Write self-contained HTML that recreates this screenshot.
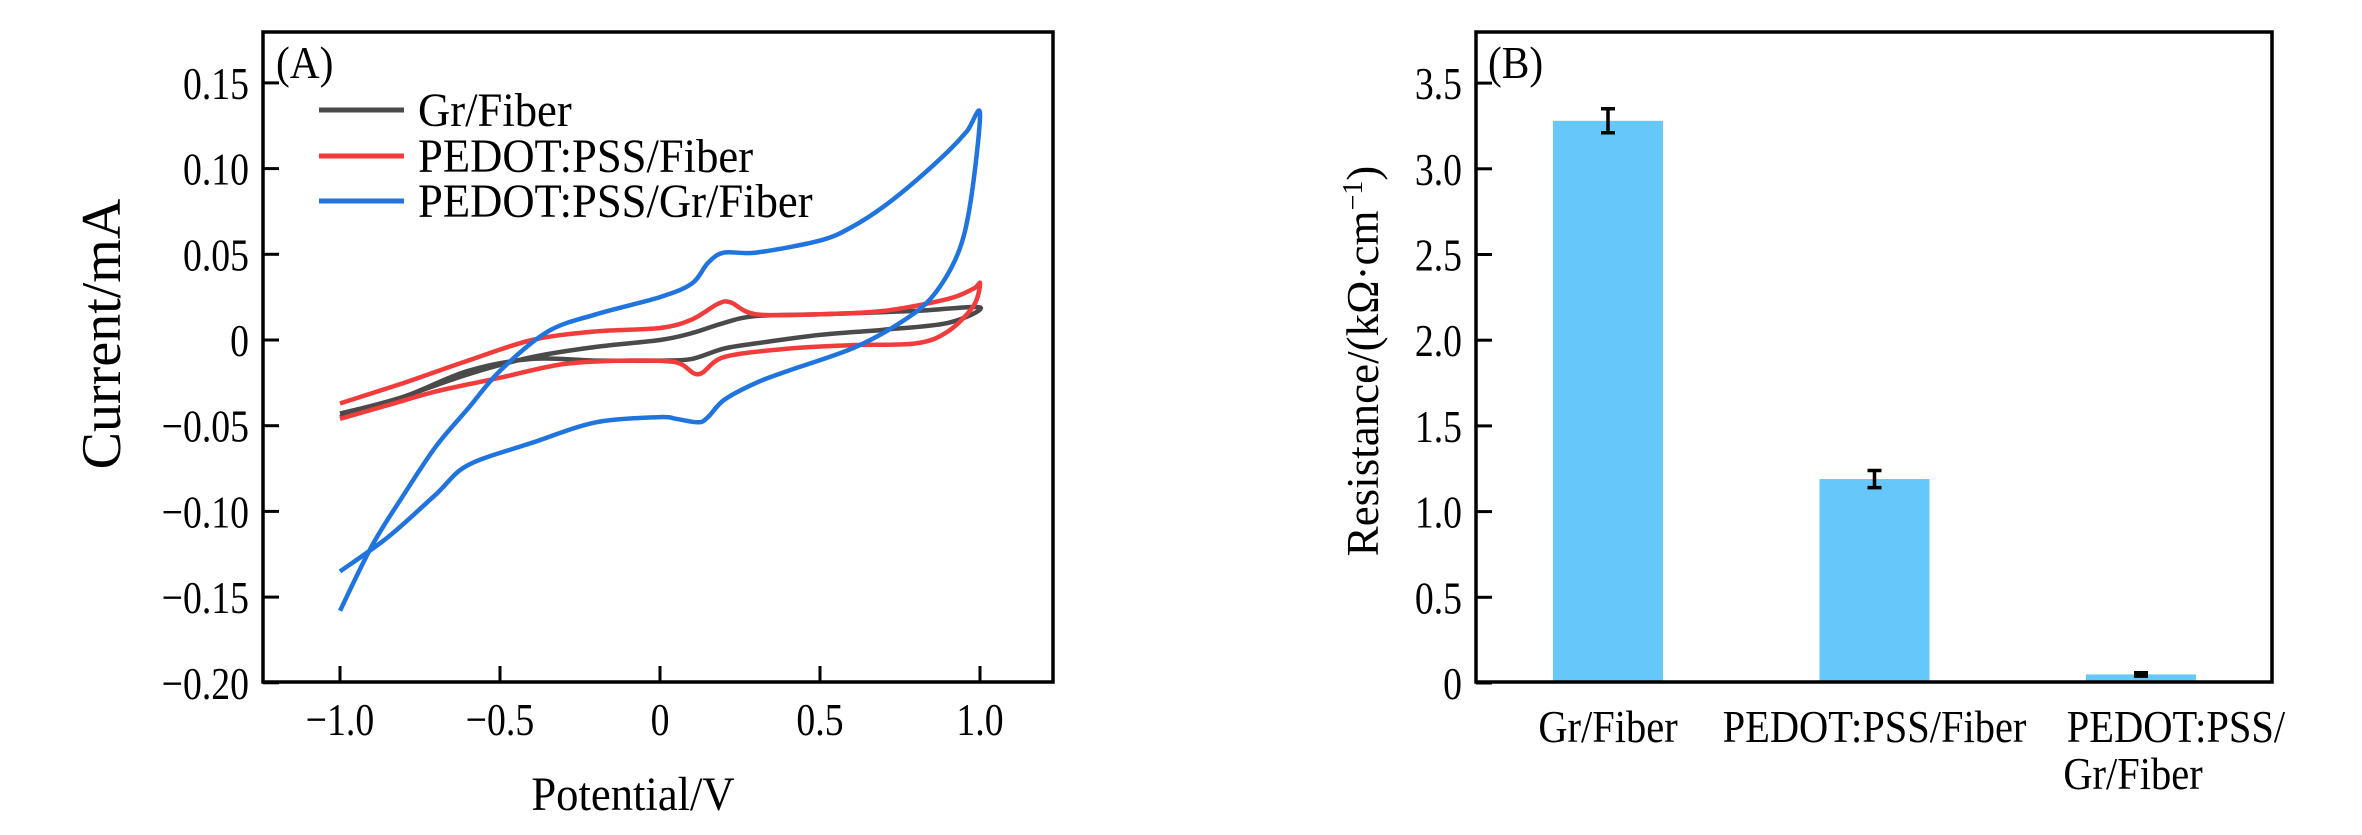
<!DOCTYPE html>
<html><head><meta charset="utf-8"><style>
html,body{margin:0;padding:0;background:#fff}
svg{display:block}
text{font-family:"Liberation Serif",serif;fill:#000}
</style></head><body>
<svg id="fig" width="2362" height="835" viewBox="0 0 2362 835" xmlns="http://www.w3.org/2000/svg">
<g id="cv"></g>
<g id="bar"></g>
</svg>
<script>
// ---- CV chart data ----
const grV=[-1,-0.8,-0.6,-0.4,-0.2,0,0.1,0.2,0.3,0.5,0.8,1.0,0.9,0.7,0.5,0.3,0.2,0.1,0,-0.2,-0.4,-0.6,-0.8,-1];
const grI=[-0.045,-0.033,-0.02,-0.01,-0.004,0.0,0.004,0.01,0.014,0.015,0.017,0.019,0.01,0.006,0.003,-0.002,-0.005,-0.011,-0.012,-0.012,-0.011,-0.018,-0.033,-0.043];
const pedV=[-1,-0.8,-0.6,-0.4,-0.2,0,0.1,0.18,0.22,0.3,0.5,0.7,0.9,0.98,1.0,0.98,0.9,0.8,0.6,0.4,0.2,0.12,0.05,-0.1,-0.3,-0.5,-0.7,-0.85,-1];
const pedI=[-0.037,-0.025,-0.012,0.0,0.005,0.007,0.012,0.021,0.022,0.015,0.015,0.017,0.024,0.03,0.033,0.02,0.005,-0.002,-0.003,-0.005,-0.01,-0.02,-0.013,-0.012,-0.014,-0.022,-0.03,-0.038,-0.046];
const bothV=[-1,-0.9,-0.8,-0.7,-0.6,-0.5,-0.35,-0.2,0,0.1,0.15,0.2,0.3,0.5,0.6,0.7,0.8,0.9,0.96,1.0,0.97,0.93,0.85,0.75,0.6,0.4,0.3,0.2,0.15,0.12,0.05,0,-0.2,-0.4,-0.6,-0.7,-0.85,-1.0];
const bothI=[-0.158,-0.12,-0.09,-0.062,-0.04,-0.018,0.005,0.015,0.025,0.033,0.045,0.051,0.051,0.058,0.066,0.078,0.093,0.11,0.122,0.132,0.08,0.05,0.025,0.01,-0.005,-0.018,-0.025,-0.035,-0.045,-0.048,-0.046,-0.045,-0.048,-0.06,-0.073,-0.09,-0.115,-0.135];
const cvXTicks=[-1.0,-0.5,0,0.5,1.0];
const cvXLabels=["\u22121.0","\u22120.5","0","0.5","1.0"];
const cvYTicks=[0.15,0.10,0.05,0,-0.05,-0.10,-0.15,-0.20];
const cvYLabels=["0.15","0.10","0.05","0","\u22120.05","\u22120.10","\u22120.15","\u22120.20"];
// ---- Bar chart data ----
const barCats=["Gr/Fiber","PEDOT:PSS/Fiber","PEDOT:PSS/Gr/Fiber"];
const barVals=[3.28,1.19,0.05];
const barErr=[0.07,0.05,0.01];
const barYTicks=[0,0.5,1.0,1.5,2.0,2.5,3.0,3.5];
const barYLabels=["0","0.5","1.0","1.5","2.0","2.5","3.0","3.5"];

const NS="http://www.w3.org/2000/svg";
function mk(parent,tag,attrs,txt){const e=document.createElementNS(NS,tag);for(const k in attrs)e.setAttribute(k,attrs[k]);if(txt!==undefined)e.textContent=txt;parent.appendChild(e);return e;}
function tickText(parent,x,y,anchor,str){
  return mk(parent,'text',{x:0,y:0,'font-size':46,'text-anchor':anchor,transform:`translate(${x},${y}) scale(0.82,1)`},str);
}
function condText(parent,x,y,anchor,str,fs,sx){
  return mk(parent,'text',{x:0,y:0,'font-size':fs,'text-anchor':anchor,transform:`translate(${x},${y}) scale(${sx},1)`},str);
}

const cx=v=>660+320*v;
const cy=i=>340-1714*i;
const cv=document.getElementById('cv');
const L=263,R=1053,T=32,B=682;
cvXTicks.forEach((t,k)=>{
  const tk=mk(cv,'line',{x1:cx(t),x2:cx(t),y1:B,y2:B-16,stroke:'#000','stroke-width':3});
  
  
  const lb=tickText(cv,cx(t),735,'middle',cvXLabels[k]);
  
  
});
cvYTicks.forEach((t,k)=>{
  const tk=mk(cv,'line',{x1:L,x2:L+16,y1:cy(t),y2:cy(t),stroke:'#000','stroke-width':3});
  
  
  const lb=tickText(cv,249,cy(t)+16,'end',cvYLabels[k]);
  
  
});
function smoothPath(pts){
  let d='M'+pts[0][0].toFixed(1)+','+pts[0][1].toFixed(1);
  for(let i=0;i<pts.length-1;i++){
    const p0=pts[i-1]||pts[i],p1=pts[i],p2=pts[i+1],p3=pts[i+2]||p2;
    const t=0.16;
    const c1=[p1[0]+(p2[0]-p0[0])*t,p1[1]+(p2[1]-p0[1])*t];
    const c2=[p2[0]-(p3[0]-p1[0])*t,p2[1]-(p3[1]-p1[1])*t];
    d+=`C${c1[0].toFixed(1)},${c1[1].toFixed(1)} ${c2[0].toFixed(1)},${c2[1].toFixed(1)} ${p2[0].toFixed(1)},${p2[1].toFixed(1)}`;
  }
  return d;
}
function series(vs,is,color,name){
  const pts=vs.map((v,k)=>[cx(v),cy(is[k])]);
  const p=mk(cv,'path',{d:smoothPath(pts),fill:'none',stroke:color,'stroke-width':4.5,'stroke-linejoin':'round'});
  
  
}
series(grV,grI,'#4a4a4a','gr-fiber-curve');
series(pedV,pedI,'#f23c3c','pedot-pss-fiber-curve');
series(bothV,bothI,'#1f74e0','pedot-pss-gr-fiber-curve');
const fr=mk(cv,'rect',{x:L,y:T,width:R-L,height:B-T,fill:'none',stroke:'#000','stroke-width':3.5});


const pa=condText(cv,276,78,'start','(A)',46,0.9);


const leg=[['Gr/Fiber','#4a4a4a',110],['PEDOT:PSS/Fiber','#f23c3c',156],['PEDOT:PSS/Gr/Fiber','#1f74e0',201]];
leg.forEach(l=>{
  const ln=mk(cv,'line',{x1:319,x2:404,y1:l[2],y2:l[2],stroke:l[1],'stroke-width':5});
  
  
  const tx=condText(cv,418,l[2]+16,'start',l[0],48,0.93);
  
  
});
const xt=condText(cv,633,810,'middle','Potential/V',48,0.93);


const yt=mk(cv,'text',{x:0,y:0,'font-size':56,'text-anchor':'middle',transform:'translate(120,334) rotate(-90)'},'Current/mA');



// Bar chart
const bg=document.getElementById('bar');
const BL=1476,BR=2272,BT=32,BB=682;
const by=v=>683-171.4*v;
const bx=k=>1608+266.5*k;
const bw=110;
barYTicks.forEach((t,k)=>{
  const tk=mk(bg,'line',{x1:BL,x2:BL+16,y1:by(t),y2:by(t),stroke:'#000','stroke-width':3});
  
  
  const lb=tickText(bg,1462,by(t)+16,'end',barYLabels[k]);
  
  
});
barVals.forEach((v,k)=>{
  const r=mk(bg,'rect',{x:bx(k)-bw/2,y:by(v),width:bw,height:by(0)-by(v),fill:'#66c8fa'});
  
  
  const e=barErr[k],hi=by(v+e),lo=by(v-e);
  const eb=mk(bg,'path',{d:`M${bx(k)},${hi}L${bx(k)},${lo}M${bx(k)-7},${hi}L${bx(k)+7},${hi}M${bx(k)-7},${lo}L${bx(k)+7},${lo}`,stroke:'#000','stroke-width':3.5,fill:'none'});
  
  
});
const bf=mk(bg,'rect',{x:BL,y:BT,width:BR-BL,height:BB-BT,fill:'none',stroke:'#000','stroke-width':3.5});


const pb=condText(bg,1488,78,'start','(B)',46,0.9);


const c1=condText(bg,bx(0),742,'middle',barCats[0],46,0.88);


const c2=condText(bg,bx(1),742,'middle',barCats[1],46,0.88);


const c3=condText(bg,2176,742,'middle','PEDOT:PSS/',46,0.88);


const c4=condText(bg,2133,789,'middle','Gr/Fiber',46,0.88);


const byt=mk(bg,'text',{x:0,y:0,'font-size':45,'text-anchor':'middle',transform:'translate(1378,361) rotate(-90)'});


byt.textContent='Resistance/(k\u03A9\u00B7cm';
const sup=mk(byt,'tspan',{dy:-16,'font-size':28},'\u22121');
const cl=mk(byt,'tspan',{dy:16},')');
</script>
</body></html>
